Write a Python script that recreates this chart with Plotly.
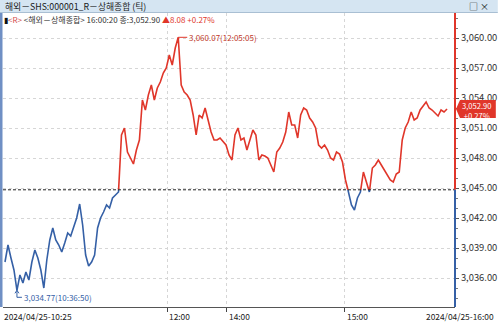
import plotly.graph_objects as go

# ---------------- data ----------------
prices = [
    3037.60, 3039.30, 3038.00, 3036.80, 3034.77, 3036.30, 3035.50, 3036.60, 3035.80, 3037.60,
    3038.80, 3038.00, 3036.80, 3035.00, 3037.80, 3039.80, 3041.00, 3039.80, 3039.30, 3038.60,
    3039.50, 3040.50, 3040.20, 3041.00, 3042.00, 3043.40, 3041.30, 3038.30, 3037.20, 3037.60,
    3038.30, 3041.00, 3042.00, 3042.60, 3043.30, 3043.00, 3044.00, 3044.30, 3044.60, 3050.30,
    3051.00, 3048.60, 3048.00, 3047.40, 3048.80, 3049.80, 3053.80, 3052.80, 3054.30, 3055.30,
    3053.80, 3055.00, 3055.60, 3056.50, 3057.00, 3058.30, 3057.30, 3059.00, 3060.07, 3055.30,
    3054.60, 3054.30, 3053.80, 3052.30, 3050.30, 3052.30, 3052.00, 3053.00, 3051.80, 3050.60,
    3049.80, 3049.80, 3050.00, 3049.60, 3049.30, 3048.30, 3047.80, 3050.30, 3051.00, 3049.80,
    3050.00, 3048.80, 3049.80, 3050.80, 3050.30, 3047.80, 3048.30, 3048.20, 3048.00, 3047.30,
    3046.60, 3048.60, 3049.00, 3049.60, 3050.60, 3052.60, 3051.30, 3051.30, 3050.00, 3052.30,
    3053.00, 3052.80, 3052.00, 3051.60, 3051.00, 3049.30, 3049.00, 3049.30, 3048.80, 3048.00,
    3047.80, 3048.60, 3048.40, 3047.60, 3045.80, 3044.60, 3043.30, 3042.80, 3044.00, 3044.60,
    3046.60, 3045.60, 3044.60, 3047.00, 3047.30, 3047.80, 3047.30, 3046.80, 3046.30, 3045.80,
    3045.60, 3046.40, 3046.60, 3049.80, 3051.00, 3051.60, 3052.60, 3051.80, 3052.00, 3052.80,
    3053.20, 3053.60, 3053.00, 3052.80, 3052.50, 3052.20, 3052.80, 3052.60, 3052.90,
]
prev_close = 3044.82
last_price = 3052.90
change = 8.08
change_pct = 0.27
max_time = "12:05:05"
min_time = "10:36:50"

y_ticks = [3036, 3039, 3042, 3045, 3048, 3051, 3054, 3057, 3060]
x_tick_idx = [54.3, 74.3, 113.7]
x_tick_text = ["12:00", "14:00", "15:00"]
start_label = "2024/04/25-10:25"
end_label = "2024/04/25-16:00"
title_text = "해외－SHS:000001_R－상해종합 (틱)"

RED = "#e0362a"
BLUE = "#3560a6"
FONT = "Noto Sans CJK KR"

# ---------------- geometry helpers ----------------
W, H = 500, 323
L, R, T, B = 3, 43, 13, 16
PW, PH = W - L - R, H - T - B
Y_RANGE = [3033.1, 3062.5]
X_RANGE = [-0.67, 150.67]


def px(x):
    return (x - L) / PW


def py(y):
    return (H - B - y) / PH


xs = list(range(len(prices)))

# split into above / below previous close
up_x, up_y, dn_x, dn_y = [], [], [], []
side = prices[0] >= prev_close
cur_x, cur_y = [xs[0]], [prices[0]]
for i in range(1, len(prices)):
    s = prices[i] >= prev_close
    if s != side:
        y0, y1 = prices[i - 1], prices[i]
        t = (prev_close - y0) / (y1 - y0)
        xc = xs[i - 1] + t * (xs[i] - xs[i - 1])
        cur_x.append(xc)
        cur_y.append(prev_close)
        tx, ty = (up_x, up_y) if side else (dn_x, dn_y)
        tx += cur_x + [None]
        ty += cur_y + [None]
        cur_x, cur_y = [xc], [prev_close]
        side = s
    cur_x.append(xs[i])
    cur_y.append(prices[i])
tx, ty = (up_x, up_y) if side else (dn_x, dn_y)
tx += cur_x
ty += cur_y

fig = go.Figure()
fig.add_trace(go.Scatter(x=dn_x, y=dn_y, mode="lines", line=dict(color=BLUE, width=1.6),
                         hoverinfo="skip", connectgaps=False))
fig.add_trace(go.Scatter(x=up_x, y=up_y, mode="lines", line=dict(color=RED, width=1.6),
                         hoverinfo="skip", connectgaps=False))

shapes = []
# title bar
shapes.append(dict(type="rect", xref="paper", yref="paper", x0=px(0), x1=px(W), y0=py(12.5), y1=py(0),
                   fillcolor="#d5e5f2", line=dict(width=0), layer="above"))
shapes.append(dict(type="line", xref="paper", yref="paper", x0=px(0), x1=px(W), y0=py(12.5), y1=py(12.5),
                   line=dict(color="#a9bfd3", width=1)))
# left blue strip
shapes.append(dict(type="rect", xref="paper", yref="paper", x0=px(0), x1=px(2.5), y0=py(307), y1=py(13),
                   fillcolor="#6f8fc4", line=dict(width=0)))
# previous close reference line
shapes.append(dict(type="line", xref="paper", yref="y", x0=0, x1=1, y0=prev_close, y1=prev_close,
                   line=dict(color="#222", width=1, dash="3px,2px")))
# right axis line (red above, blue below)
shapes.append(dict(type="line", xref="paper", yref="y", x0=1, x1=1, y0=prev_close, y1=Y_RANGE[1],
                   line=dict(color=RED, width=2)))
shapes.append(dict(type="line", xref="paper", yref="y", x0=1, x1=1, y0=Y_RANGE[0], y1=prev_close,
                   line=dict(color=BLUE, width=2)))
# last price box
shapes.append(dict(type="path", xref="paper", yref="y", ysizemode="pixel", yanchor=last_price,
                   path=f"M {px(458)},0 L {px(462)},9 L {px(498)},9 L {px(498)},-9 L {px(462)},-9 Z",
                   fillcolor=RED, line=dict(width=0), layer="above"))

# max / min markers
imax = max(range(len(prices)), key=lambda i: prices[i])
imin = min(range(len(prices)), key=lambda i: prices[i])
shapes.append(dict(type="line", xref="x", yref="y", xsizemode="pixel", xanchor=imax, x0=0, x1=9,
                   y0=prices[imax], y1=prices[imax], line=dict(color=RED, width=1)))
shapes.append(dict(type="path", xref="x", yref="y", xsizemode="pixel", ysizemode="pixel",
                   xanchor=imin, yanchor=prices[imin],
                   path="M 0,0 L 0,-7 L 5,-7", line=dict(color=BLUE, width=1)))
shapes.append(dict(type="path", xref="x", yref="y", xsizemode="pixel", ysizemode="pixel",
                   xanchor=imin, yanchor=prices[imin],
                   path="M -2,-3 L 0,0 L 2,-3", line=dict(color=BLUE, width=1)))

annotations = []
annotations.append(dict(xref="paper", yref="paper", x=px(3), y=py(6), xanchor="left", yanchor="middle",
                        text=title_text, showarrow=False, font=dict(family=FONT, size=8.8, color="#1a1a1a")))
annotations.append(dict(xref="paper", yref="paper", x=px(493), y=py(6), xanchor="right", yanchor="middle",
                        text="□ ×", showarrow=False, font=dict(family=FONT, size=9, color="#111")))
header = (f"<span style='color:#111'>▮</span><span style='color:#d24a4a'>&lt;R&gt;</span>"
          f"<span style='color:#333'> &lt;해외－상해종합&gt; 16:00:20 종:{last_price:,.2f} </span>"
          f"<span style='color:{RED}'>▲{change:.2f} +{change_pct:.2f}%</span>")
annotations.append(dict(xref="paper", yref="paper", x=px(2), y=py(19.5), xanchor="left", yanchor="middle",
                        text=header, showarrow=False, font=dict(family=FONT, size=8, color="#333")))
annotations.append(dict(xref="x", yref="y", x=imax, y=prices[imax], xanchor="left", yanchor="middle",
                        xshift=9, text=f"{prices[imax]:,.2f}({max_time})", showarrow=False,
                        font=dict(family=FONT, size=8, color="#c0392b")))
annotations.append(dict(xref="x", yref="y", x=imin, y=prices[imin], xanchor="left", yanchor="middle",
                        xshift=5, yshift=-7, text=f"{prices[imin]:,.2f}({min_time})", showarrow=False,
                        font=dict(family=FONT, size=8, color=BLUE)))
# last price label text
annotations.append(dict(xref="paper", yref="y", x=px(479), y=last_price, xanchor="center", yanchor="middle",
                        yshift=-1, text=f"{last_price:,.2f}<br>+{change_pct:.2f}%", showarrow=False,
                        font=dict(family=FONT, size=7.6, color="white")))
# x labels
XL = dict(family=FONT, size=8.4, color="#222")
annotations.append(dict(xref="paper", yref="paper", x=px(2), y=py(315.5), xanchor="left", yanchor="middle",
                        text=start_label, showarrow=False, font=XL))
annotations.append(dict(xref="paper", yref="paper", x=px(498), y=py(315.5), xanchor="right", yanchor="middle",
                        text=end_label, showarrow=False, font=XL))
for xi, txt in zip(x_tick_idx, x_tick_text):
    annotations.append(dict(xref="x", yref="paper", x=xi, y=py(315.5), xanchor="left", yanchor="middle",
                            text=txt, showarrow=False, font=XL))

fig.update_layout(
    width=W, height=H, margin=dict(l=L, r=R, t=T, b=B, pad=0),
    paper_bgcolor="white", plot_bgcolor="white", showlegend=False,
    shapes=shapes, annotations=annotations,
    xaxis=dict(range=X_RANGE, tickvals=x_tick_idx, ticktext=["" for _ in x_tick_idx],
               showticklabels=False, ticks="outside", ticklen=4, tickcolor="#444",
               showgrid=True, gridcolor="#d6d6d6", griddash="dot", gridwidth=1,
               showline=True, linecolor="#555", linewidth=1, zeroline=False, fixedrange=True),
    yaxis=dict(range=Y_RANGE, side="right", tickvals=y_ticks,
               ticktext=[f"{v:,.2f}" for v in y_ticks],
               tickfont=dict(family=FONT, size=9.4, color="#333"),
               ticks="outside", ticklen=3, tickcolor="#555",
               minor=dict(ticks="outside", ticklen=2, dtick=1, tickcolor="#777", showgrid=False),
               showgrid=True, gridcolor="#d6d6d6", griddash="dot", gridwidth=1,
               showline=False, zeroline=False, fixedrange=True),
)

fig.write_html("out.html")
